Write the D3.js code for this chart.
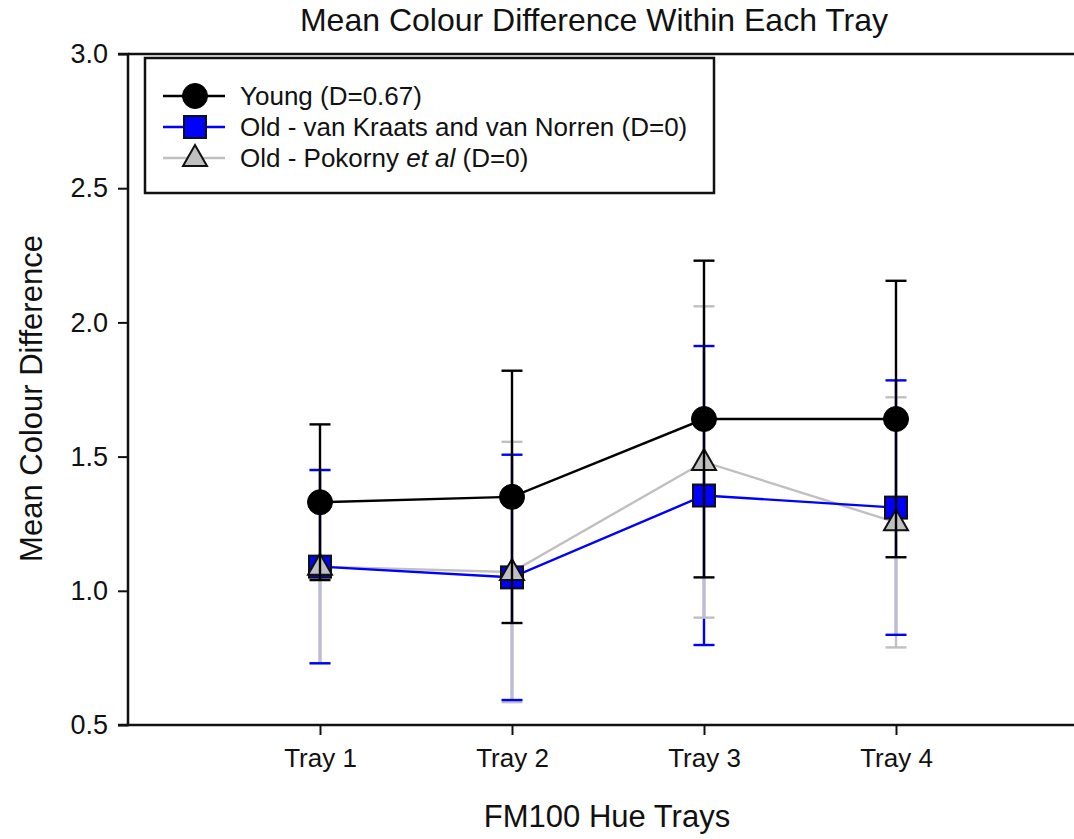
<!DOCTYPE html>
<html>
<head>
<meta charset="utf-8">
<script src="https://cdn.jsdelivr.net/npm/d3@7"></script>
<style>
  html, body { margin: 0; padding: 0; background: #fff; }
  svg { display: block; font-family: "Liberation Sans", Arial, sans-serif; }
</style>
</head>
<body>
<svg id="chart" width="1074" height="839"></svg>
<script>
// Tray positions and labels
const trays = [1, 2, 3, 4];
const trayLabels = ["Tray 1", "Tray 2", "Tray 3", "Tray 4"];
const yTicks = [0.5, 1.0, 1.5, 2.0, 2.5, 3.0];

// Mean colour difference per tray and error half-widths
const youngMean = [1.33, 1.35, 1.64, 1.64];
const youngErr  = [0.29, 0.47, 0.59, 0.515];
const vkMean    = [1.09, 1.05, 1.355, 1.31];
const vkErr     = [0.36, 0.457, 0.557, 0.474];
const pokMean   = [1.09, 1.07, 1.48, 1.255];
const pokErr    = [0.36, 0.485, 0.58, 0.466];

const svg = d3.select("#chart");

const x = d3.scaleLinear().domain([0, 5]).range([128, 1088]);
const y = d3.scaleLinear().domain([0.5, 3.0]).range([725, 54]);

const BLUE = "#0000ff", GRAY = "#c0c0c0", INK = "#111";

// Title
svg.append("text")
  .attr("x", 594).attr("y", 31)
  .attr("text-anchor", "middle")
  .attr("font-size", 32)
  .attr("fill", INK)
  .text("Mean Colour Difference Within Each Tray");

// Top frame line (right edge falls past the page)
svg.append("line").attr("x1", x(0)).attr("x2", x(5)).attr("y1", y(3)).attr("y2", y(3))
  .attr("stroke", INK).attr("stroke-width", 2.5);

// Axes
const yAxis = d3.axisLeft(y).tickValues(yTicks).tickFormat(d3.format(".1f")).tickSize(10).tickPadding(10);
const gy = svg.append("g").attr("transform", `translate(${x(0)},0)`).call(yAxis);
const xAxis = d3.axisBottom(x).tickValues(trays).tickFormat((d, i) => trayLabels[i]).tickSize(10).tickPadding(14);
const gx = svg.append("g").attr("transform", `translate(0,${y(0.5)})`).call(xAxis);

[gx, gy].forEach(g => {
  g.select(".domain").attr("stroke", INK).attr("stroke-width", 2.5);
  g.selectAll(".tick line").attr("stroke", INK).attr("stroke-width", 2);
  g.selectAll(".tick text").attr("font-size", 26).attr("fill", INK)
    .attr("font-family", "Liberation Sans, Arial, sans-serif");
});
gy.selectAll(".tick text").attr("font-size", 27);
gy.select(".domain").attr("d", `M-10,${y(3)}H0V${y(0.5)}H-10`);
gx.select(".domain").attr("d", `M${x(0)},0H${x(5)}`);

// Axis titles
svg.append("text")
  .attr("x", 607).attr("y", 827)
  .attr("text-anchor", "middle").attr("font-size", 31).attr("fill", INK)
  .text("FM100 Hue Trays");
svg.append("text")
  .attr("transform", `translate(42,${(y(0.5) + y(3)) / 2 + 9}) rotate(-90)`)
  .attr("text-anchor", "middle").attr("font-size", 31).attr("fill", INK)
  .text("Mean Colour Difference");

const CAP = 10.5;
function errorStems(means, errs, color) {
  const g = svg.append("g").attr("stroke", color).attr("stroke-width", 2.4);
  trays.forEach((t, i) => {
    g.append("line").attr("x1", x(t)).attr("x2", x(t))
      .attr("y1", y(means[i] - errs[i])).attr("y2", y(means[i] + errs[i]));
  });
}
function errorCaps(means, errs, color) {
  const g = svg.append("g").attr("stroke", color).attr("stroke-width", 2.4);
  trays.forEach((t, i) => {
    [means[i] - errs[i], means[i] + errs[i]].forEach(v => {
      g.append("line").attr("x1", x(t) - CAP).attr("x2", x(t) + CAP).attr("y1", y(v)).attr("y2", y(v));
    });
  });
}
const lineGen = d3.line().x(d => x(d[0])).y(d => y(d[1]));
function seriesLine(means, color) {
  svg.append("path")
    .datum(trays.map((t, i) => [t, means[i]]))
    .attr("d", lineGen).attr("fill", "none")
    .attr("stroke", color).attr("stroke-width", 2.4);
}

const circleSym = d3.symbol().type(d3.symbolCircle).size(Math.PI * 12.5 * 12.5);
function square(g, cx, cy) {
  g.append("rect").attr("x", cx - 11).attr("y", cy - 11).attr("width", 22).attr("height", 22)
    .attr("fill", BLUE).attr("stroke", INK).attr("stroke-width", 2);
}
function triangle(g, cx, cy) {
  const w = 12, hTop = 13, hBot = 8;
  g.append("path")
    .attr("d", `M${cx},${cy - hTop}L${cx + w},${cy + hBot}L${cx - w},${cy + hBot}Z`)
    .attr("fill", GRAY).attr("stroke", INK).attr("stroke-width", 2).attr("stroke-linejoin", "miter");
}
function circle(g, cx, cy) {
  g.append("path").attr("d", circleSym).attr("transform", `translate(${cx},${cy})`)
    .attr("fill", "#000").attr("stroke", "#000").attr("stroke-width", 1);
}

// Old series first, Young on top
errorStems(vkMean, vkErr, BLUE);
errorStems(pokMean, pokErr, GRAY);
errorCaps(pokMean, pokErr, GRAY);
errorCaps(vkMean, vkErr, BLUE);
seriesLine(pokMean, GRAY);
seriesLine(vkMean, BLUE);
const mk = svg.append("g");
trays.forEach((t, i) => square(mk, x(t), y(vkMean[i])));
trays.forEach((t, i) => triangle(mk, x(t), y(pokMean[i])));
errorStems(youngMean, youngErr, "#000");
errorCaps(youngMean, youngErr, "#000");
seriesLine(youngMean, "#000");
const mk2 = svg.append("g");
trays.forEach((t, i) => circle(mk2, x(t), y(youngMean[i])));

// Legend
const legend = svg.append("g");
legend.append("rect").attr("x", 145).attr("y", 58).attr("width", 569).attr("height", 135)
  .attr("fill", "#fff").attr("stroke", INK).attr("stroke-width", 2.5);
const rows = [
  { y: 96, color: "#000", draw: circle, parts: [["Young (D=0.67)", false]] },
  { y: 127, color: BLUE, draw: square, parts: [["Old - van Kraats and van Norren (D=0)", false]] },
  { y: 158, color: GRAY, draw: triangle, parts: [["Old - Pokorny ", false], ["et al", true], [" (D=0)", false]] }
];
rows.forEach(r => {
  legend.append("line").attr("x1", 163).attr("x2", 225).attr("y1", r.y).attr("y2", r.y)
    .attr("stroke", r.color).attr("stroke-width", 2.4);
  r.draw(legend, 195, r.y);
  const t = legend.append("text").attr("x", 240).attr("y", r.y + 9)
    .attr("font-size", 26).attr("fill", INK);
  r.parts.forEach(([s, it]) => {
    t.append("tspan").attr("font-style", it ? "italic" : "normal").text(s);
  });
});
</script>
</body>
</html>
